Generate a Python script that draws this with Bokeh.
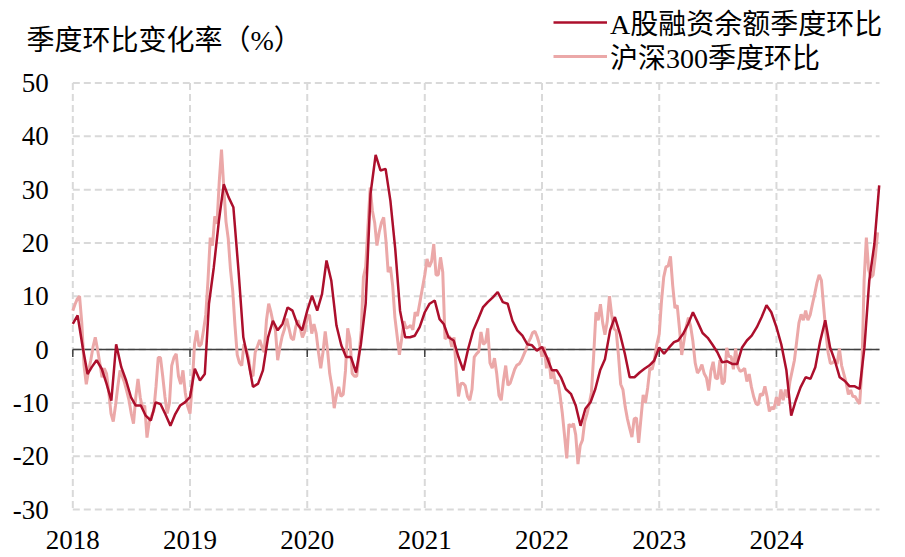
from datetime import datetime, timedelta
from bokeh.plotting import figure
from bokeh.models import (Range1d, FixedTicker, DatetimeTickFormatter, NumeralTickFormatter,
                          Label, Legend, LegendItem)
from bokeh.embed import file_html
from bokeh.resources import INLINE

# ---------------- data ----------------
years = [2018, 2019, 2020, 2021, 2022, 2023, 2024]
y_ticks = [-30, -20, -10, 0, 10, 20, 30, 40, 50]
margin_last = datetime(2024, 11, 16)   # half-monthly samples (1st / 16th)
hs300_last = datetime(2024, 11, 11)    # weekly samples from Jan 1 of each year

# A股融资余额季度环比 (%), half-monthly
margin_2018 = [4.8, 6.4, 0.4, -4.6, -3.3, -2.0, -3.6, -6.4, -9.6, 1.0, -3.3, -5.8,
               -8.9, -10.5, -10.5, -12.4, -13.3, -9.9, -10.2, -12.1, -14.3, -12.1, -10.5, -9.9]
margin_2019 = [-8.9, -3.6, -5.8, -4.6, 8.6, 15.4, 24.2, 31.0, 28.6, 26.7, 14.8, 2.3,
               -2.0, -7.0, -6.4, -3.9, 2.3, 5.4, 3.6, 4.8, 7.9, 7.3, 4.8, 3.6]
margin_2020 = [7.3, 10.1, 7.3, 10.4, 16.7, 12.9, 4.5, 0.8, -1.4, -1.4, -4.3, 1.0,
               8.6, 29.2, 36.5, 33.6, 33.9, 27.9, 18.9, 7.3, 2.3, 2.3, 2.6, 4.2]
margin_2021 = [7.0, 8.6, 9.2, 5.7, 4.8, 2.3, 1.7, -1.4, -3.9, 0.1, 3.6, 5.7,
               7.9, 8.9, 9.8, 10.8, 8.9, 8.6, 5.4, 3.6, 2.6, 1.0, 0.8, -0.2]
margin_2022 = [0.5, -1.4, -3.9, -3.9, -5.2, -7.4, -8.3, -10.5, -14.3, -11.1, -9.9, -7.4,
               -3.9, -1.8, 3.6, 6.1, 2.9, -0.8, -5.2, -5.2, -4.3, -3.6, -3.0, -2.1]
margin_2023 = [0.4, -0.8, 0.4, 1.4, 1.7, 2.9, 4.8, 7.0, 5.1, 3.1, 2.2, 0.9,
               -0.5, -2.4, -2.2, -2.7, -2.7, 0.4, 1.7, 2.6, 4.2, 6.1, 8.3, 7.0]
margin_2024 = [4.2, 1.0, -3.9, -12.4, -9.6, -7.1, -5.2, -5.5, -3.3, 1.5, 5.5, 0.4,
               -2.1, -5.2, -5.9, -6.9, -6.9, -7.4, 0.4, 12.9, 19.8, 30.8]

# 沪深300季度环比 (%), weekly
hs300_2018 = [7.3, 8.5, 9.5, 10.0, 5.0, -3.0, -6.5, -4.0, -2.0, 0.5,
              2.3, 0.0, -2.5, -5.2, -3.5, -4.5, -8.0, -12.0, -13.5, -10.5,
              -7.0, -3.9, -5.0, -6.2, -7.8, -9.5, -12.0, -13.9, -9.0, -5.5,
              -9.0, -11.0, -10.5, -16.5, -13.5, -12.5, -11.5, -7.0, -1.5, -1.5,
              -5.0, -8.9, -12.0, -10.0, -3.0, -1.5, -0.8, -5.0, -6.5, -3.9,
              -8.0, -10.5]
hs300_2019 = [-12.0, -6.5, 1.0, 3.6, 0.6, 1.0, 3.6, 6.5, 13.0, 21.0,
              19.5, 25.0, 23.6, 31.5, 37.5, 30.5, 24.0, 20.8, 15.0, 11.0,
              4.5, -1.0, -2.5, -3.0, 1.0, 0.0, -1.5, -4.5, -5.0, -0.5,
              0.6, 1.8, 0.5, -0.5, 5.5, 8.6, 7.0, 5.0, 3.6, -2.0,
              0.5, 2.5, 3.8, 5.8, 4.0, 2.2, 1.8, 4.2, 5.5, 4.0,
              2.3, 3.3]
hs300_2020 = [6.1, 6.5, 3.0, 4.8, 3.0, -0.5, -3.5, -0.5, 3.4, 0.0,
              -4.5, -7.0, -11.0, -8.5, -7.0, -8.8, -8.4, -4.0, 4.0, 2.0,
              -4.5, -5.0, -5.0, -1.2, 3.5, 13.6, 15.5, 23.0, 30.4, 26.0,
              23.8, 19.5, 22.0, 23.8, 24.8, 20.5, 14.5, 15.5, 12.0, 6.0,
              2.5, -1.0, 2.0, 5.3, 4.0, 4.2, 4.5, 3.7, 7.0, 6.3,
              8.6, 11.0]
hs300_2021 = [14.0, 17.0, 15.5, 16.5, 19.8, 14.0, 14.0, 17.3, 14.5, 2.0,
              2.3, 2.5, 0.5, 2.3, -3.8, -8.8, -6.4, -6.3, -6.8, -8.8,
              -9.5, -7.5, -1.4, -0.8, -0.4, 3.3, 1.0, 1.3, 4.0, -2.5,
              -3.5, -1.6, -4.5, -8.6, -9.5, -5.8, -3.0, -6.7, -6.3, -5.0,
              -3.7, -2.9, -2.7, -2.0, -1.0, 0.0, 1.3, 2.1, 3.2, 3.4,
              2.4, 1.0]
hs300_2022 = [-1.4, 0.5, -3.5, -1.5, -5.5, -4.0, -6.4, -5.8, -8.5, -11.8,
              -16.0, -20.4, -14.0, -14.5, -13.9, -16.0, -21.5, -18.0, -17.0, -13.5,
              -12.1, -10.2, -8.0, -1.0, 7.0, 5.5, 8.5, 5.0, 2.8, 5.2,
              10.0, 6.5, 3.9, 3.5, -1.0, -6.5, -7.5, -10.7, -13.0, -14.8,
              -16.4, -13.0, -12.8, -17.5, -13.0, -8.5, -10.0, -7.2, -3.5, -3.7,
              -2.0, 0.8]
hs300_2023 = [2.9, 9.0, 13.6, 15.5, 15.7, 17.5, 12.0, 7.8, 8.3, 4.0,
              -1.0, 1.6, 4.3, 6.0, 4.3, 1.5, -2.5, -4.4, -3.8, -2.8,
              -4.5, -5.3, -7.7, -4.0, -2.3, -5.3, -5.5, -2.0, -6.5, -6.0,
              0.3, -1.3, -1.3, -3.7, 0.2, -3.3, -4.1, -3.9, -3.5, -6.0,
              -4.6, -7.0, -8.8, -10.1, -10.4, -8.3, -8.6, -6.9, -8.9, -11.6,
              -10.8, -11.2]
hs300_2024 = [-8.9, -10.5, -7.5, -9.5, -7.5, -9.0, -6.0, -4.0, -2.0, 1.5,
              5.0, 6.6, 5.5, 7.3, 5.5, 6.5, 8.5, 10.4, 12.5, 14.0,
              13.0, 8.0, 3.2, -0.6, -2.6, -2.5, -2.0, -2.7, 0.2, -3.0,
              -4.6, -6.2, -8.4, -7.6, -8.8, -8.8, -9.6, -10.2, -4.0, 13.0,
              21.0, 15.0, 13.5, 14.0, 17.5, 22.0]

margin_chg = (margin_2018 + margin_2019 + margin_2020 + margin_2021 +
              margin_2022 + margin_2023 + margin_2024)
hs300_chg = (hs300_2018 + hs300_2019 + hs300_2020 + hs300_2021 +
             hs300_2022 + hs300_2023 + hs300_2024)

margin_dates = [datetime(yr, mo, dd) for yr in years for mo in range(1, 13) for dd in (1, 16)
                if datetime(yr, mo, dd) <= margin_last]
hs300_dates = [datetime(yr, 1, 1) + timedelta(days=7 * k) for yr in years for k in range(52)
               if datetime(yr, 1, 1) + timedelta(days=7 * k) <= hs300_last]
assert len(margin_dates) == len(margin_chg)
assert len(hs300_dates) == len(hs300_chg)

year_starts = [datetime(y, 1, 1) for y in years]
EPOCH = datetime(1970, 1, 1)
year_ms = [(d - EPOCH).total_seconds() * 1000 for d in year_starts]

# ---------------- layout constants ----------------
W, H = 905, 557
FRAME_LEFT_PX, FRAME_RIGHT_PX = 72.3, 879.0      # where 2018-01-01 and the axis end sit
PX_PER_DAY = 117.3 / 365.25
x_start = year_starts[0] - timedelta(days=FRAME_LEFT_PX / PX_PER_DAY)
x_end = year_starts[0] + timedelta(days=(W - FRAME_LEFT_PX) / PX_PER_DAY)
axis_end = year_starts[0] + timedelta(days=(FRAME_RIGHT_PX - FRAME_LEFT_PX) / PX_PER_DAY)
PX_PER_UNIT = 426.5 / 80.0
Y_BOTTOM_PX = 509.0                               # pixel row of the -30 line
y_top = 50 + 82.5 / PX_PER_UNIT
y_bot = -30 - (H - Y_BOTTOM_PX) / PX_PER_UNIT

RED = "#AC0F2C"
PINK = "#EBA8A8"
GRID = "#D9D9D9"
AXIS = "#404040"
SERIF = "Liberation Serif"
MIXED = "Liberation Serif, Noto Sans CJK SC"

p = figure(width=W, height=H, x_axis_type="datetime",
           x_range=Range1d(x_start, x_end), y_range=Range1d(y_bot, y_top),
           output_backend="svg", toolbar_location=None,
           min_border_left=0, min_border_right=0,
           min_border_top=0, min_border_bottom=0)
p.outline_line_color = None
p.background_fill_color = "white"
p.xgrid.visible = False
p.ygrid.visible = False

p.xaxis.ticker = FixedTicker(ticks=year_ms)
p.xaxis.formatter = DatetimeTickFormatter(years="%Y", months="%Y", days="%Y",
                                          hours="%Y", minutes="%Y", seconds="%Y",
                                          milliseconds="%Y", microseconds="%Y")
p.xaxis.fixed_location = min(y_ticks)
p.yaxis.ticker = FixedTicker(ticks=y_ticks)
p.yaxis.formatter = NumeralTickFormatter(format="0")
p.yaxis.fixed_location = year_ms[0]

for ax in (p.xaxis[0], p.yaxis[0]):
    ax.axis_line_color = None
    ax.major_tick_line_color = None
    ax.minor_tick_line_color = None
    ax.major_tick_out = 0
    ax.major_tick_in = 0
    ax.major_label_text_font = SERIF
    ax.major_label_text_font_size = "27px"
    ax.major_label_text_color = "#000000"
p.xaxis.major_label_standoff = 21
p.yaxis.major_label_standoff = 24

# dashed grid (drawn only over the chart area)
p.segment(x0=[year_starts[0]] * len(y_ticks), y0=y_ticks,
          x1=[axis_end] * len(y_ticks), y1=y_ticks,
          line_color=GRID, line_width=2, line_dash="7 4")
p.segment(x0=year_starts, y0=[max(y_ticks)] * len(years),
          x1=year_starts, y1=[min(y_ticks)] * len(years),
          line_color=GRID, line_width=2, line_dash="7 4")

# zero axis line with year ticks
p.segment(x0=[year_starts[0]], y0=[0], x1=[axis_end], y1=[0],
          line_color=AXIS, line_width=1.5)
p.segment(x0=year_starts, y0=[0] * len(years), x1=year_starts, y1=[-1.4] * len(years),
          line_color=AXIS, line_width=1.5)

r_pink = p.line(hs300_dates, hs300_chg, line_color=PINK, line_width=3)
r_red = p.line(margin_dates, margin_chg, line_color=RED, line_width=2.5)

legend_style = dict(orientation="vertical", glyph_width=54, glyph_height=38,
                    label_height=38, spacing=0, padding=0, margin=0, label_standoff=3,
                    border_line_color=None, background_fill_alpha=0,
                    label_text_font=MIXED, label_text_font_size="28px",
                    label_text_color="#000000")
# one legend box per entry so that each row sits where the reference puts it
p.add_layout(Legend(items=[LegendItem(label="A股融资余额季度环比", renderers=[r_red])],
                    location=(553, H - 42), **legend_style))
p.add_layout(Legend(items=[LegendItem(label="沪深300季度环比", renderers=[r_pink])],
                    location=(553, H - 76), **legend_style))

p.add_layout(Label(x=26, y=H - 40, x_units="screen", y_units="screen",
                   text="季度环比变化率（%）", text_font=MIXED,
                   text_font_size="28px", text_baseline="middle",
                   text_align="left", text_color="#000000"))

open("out.html", "w").write(file_html(p, INLINE))
